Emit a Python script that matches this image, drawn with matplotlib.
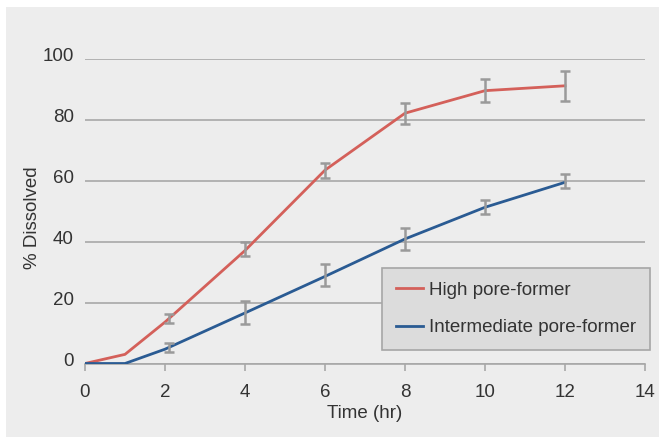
import matplotlib
matplotlib.use("Agg")
import matplotlib.pyplot as plt
import matplotlib.transforms as mtransforms
from matplotlib.patches import Rectangle

plt.rcParams['font.family'] = ['Liberation Sans', 'DejaVu Sans']

# data
time_hr = [0, 1, 2, 4, 6, 8, 10, 12]
high = [0, 3, 13.6, 37.1, 63.5, 82.2, 89.6, 91.2]
inter = [0, 0, 4.7, 16.6, 28.6, 40.9, 51.3, 59.5]

# error bars (drawn slightly right of x=2 in the original)
bar_x = [2.1, 4, 6, 8, 10, 12]
high_bar = [14.7, 37.6, 63.5, 82.2, 89.6, 91.2]
high_err = [1.5, 2.3, 2.5, 3.5, 3.7, 5.0]
inter_bar = [5.3, 16.8, 29.1, 40.9, 51.3, 59.8]
inter_err = [1.5, 3.7, 3.7, 3.7, 2.3, 2.3]

xticks = [0, 2, 4, 6, 8, 10, 12, 14]
yticks = [0, 20, 40, 60, 80, 100]

red = "#d4605a"
blue = "#2a5b93"
errc = "#9a9a9a"
gridc = "#a8a8a8"
txtc = "#333333"
bg = "#ededed"
fs = 13.5

fig = plt.figure(figsize=(6.6, 4.37), dpi=100)
fig.patch.set_facecolor("white")
fig.patches.append(Rectangle((6 / 660, 0), 653 / 660, 430 / 437,
                             transform=fig.transFigure, facecolor=bg,
                             edgecolor="none", zorder=-5))

ax = fig.add_axes([85 / 660, (437 - 363.5) / 437, 560 / 660, 304.5 / 437])
ax.set_facecolor("none")

ax.plot(time_hr, high, color=red, lw=2, label="High pore-former", zorder=3)
ax.plot(time_hr, inter, color=blue, lw=2, label="Intermediate pore-former", zorder=3)
ax.errorbar(bar_x, high_bar, yerr=high_err, fmt="none", ecolor=errc,
            elinewidth=1.8, capsize=3.3, capthick=1.8, zorder=4, clip_on=False)
ax.errorbar(bar_x, inter_bar, yerr=inter_err, fmt="none", ecolor=errc,
            elinewidth=1.8, capsize=3.3, capthick=1.8, zorder=4, clip_on=False)

ax.set_xlim(0, 14)
ax.set_ylim(0, 100)
ax.set_xticks(xticks)
ax.set_yticks(yticks)
ax.yaxis.grid(True, color=gridc, lw=1.2)
ax.set_axisbelow(True)

for s in ["top", "right", "left"]:
    ax.spines[s].set_visible(False)
ax.spines["bottom"].set_color(gridc)
ax.spines["bottom"].set_linewidth(1.2)

ax.tick_params(axis="x", direction="out", length=5, width=1.2, color=gridc,
               labelsize=fs, labelcolor=txtc, pad=10)
ax.tick_params(axis="y", length=0, labelsize=fs, labelcolor=txtc, pad=8)

# y labels sit a little above their gridlines in the original
shift = mtransforms.ScaledTranslation(0, 4 / 100, fig.dpi_scale_trans)
for lab in ax.get_yticklabels():
    lab.set_transform(lab.get_transform() + shift)

ax.set_xlabel("Time (hr)", fontsize=fs, color=txtc, labelpad=3)
ax.set_ylabel("% Dissolved", fontsize=fs, color=txtc)
ax.yaxis.set_label_coords(-0.0946, 0.478)
ax.yaxis.label.set_va("center")

leg = ax.legend(loc="upper left", bbox_to_anchor=(0.5304, 0.314),
                borderaxespad=0, fontsize=fs, frameon=True, fancybox=False,
                handlelength=1.45, handletextpad=0.35, labelspacing=1.1,
                borderpad=0.72)
leg.get_frame().set_facecolor("#dcdcdc")
leg.get_frame().set_edgecolor("#a6a6a6")
leg.get_frame().set_linewidth(1.2)
leg.get_frame().set_alpha(1)
for t in leg.get_texts():
    t.set_color(txtc)

fig.savefig("out.png", dpi=100)
